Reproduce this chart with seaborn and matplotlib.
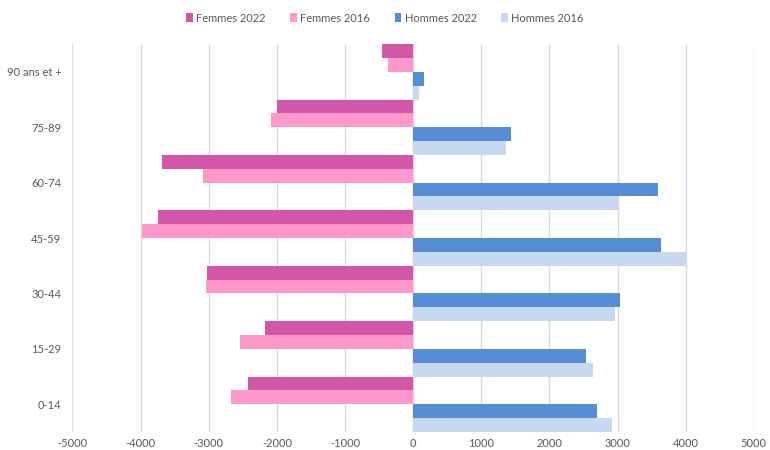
import numpy as np
import pandas as pd
import matplotlib
matplotlib.use("Agg")
import matplotlib.pyplot as plt
import seaborn as sns
from matplotlib.patches import Patch

# Age groups, top to bottom as in the chart
age_groups = ["90 ans et +", "75-89", "60-74", "45-59", "30-44", "15-29", "0-14"]
series = ["Femmes 2022", "Femmes 2016", "Hommes 2022", "Hommes 2016"]

# Women are stored as negative values (pyramid)
femmes_2022 = [-460, -2000, -3690, -3745, -3025, -2170, -2430]
femmes_2016 = [-375, -2080, -3090, -3980, -3045, -2545, -2665]
hommes_2022 = [165, 1430, 3595, 3640, 3035, 2535, 2695]
hommes_2016 = [92, 1370, 3005, 4010, 2965, 2640, 2915]

colors = ["#D456A8", "#FF99CC", "#558ED5", "#C6D9F1"]

df = pd.DataFrame({
    "age": age_groups * 4,
    "serie": np.repeat(series, len(age_groups)),
    "valeur": femmes_2022 + femmes_2016 + hommes_2022 + hommes_2016,
})

sns.set_style("white")
plt.rcParams["font.family"] = ["Lato", "DejaVu Sans"]
plt.rcParams["axes.unicode_minus"] = False

fig = plt.figure(figsize=(7.7, 4.5), dpi=100)
ax = fig.add_axes([0.094, 0.04, 0.885, 0.862])

sns.barplot(data=df, x="valeur", y="age", hue="serie", order=age_groups,
            hue_order=series, palette=colors, saturation=1, orient="h",
            width=1.0, gap=0, dodge=True, linewidth=0, errorbar=None,
            ax=ax, legend=False)

ax.set_xlim(-5000, 5000)
ax.set_xticks(np.arange(-5000, 5001, 1000))
ax.grid(axis="x", color="#D9D9D9", linewidth=1)
ax.set_axisbelow(True)
ax.axvline(0, color="#D9D9D9", linewidth=1, zorder=0.5)
for s in ax.spines.values():
    s.set_visible(False)
ax.set_xlabel("")
ax.set_ylabel("")
ax.tick_params(axis="both", length=0, labelsize=8, colors="#595959")
ax.tick_params(axis="y", pad=8)
ax.tick_params(axis="x", pad=4)

handles = [Patch(facecolor=c, edgecolor="none") for c in colors]
fig.legend(handles, series, loc="center", bbox_to_anchor=(0.5, 0.96), ncol=4,
           frameon=False, fontsize=8, handlelength=0.6, handleheight=0.8,
           handletextpad=0.3, columnspacing=2.2, labelcolor="#595959")

fig.savefig("out.png", dpi=100)
